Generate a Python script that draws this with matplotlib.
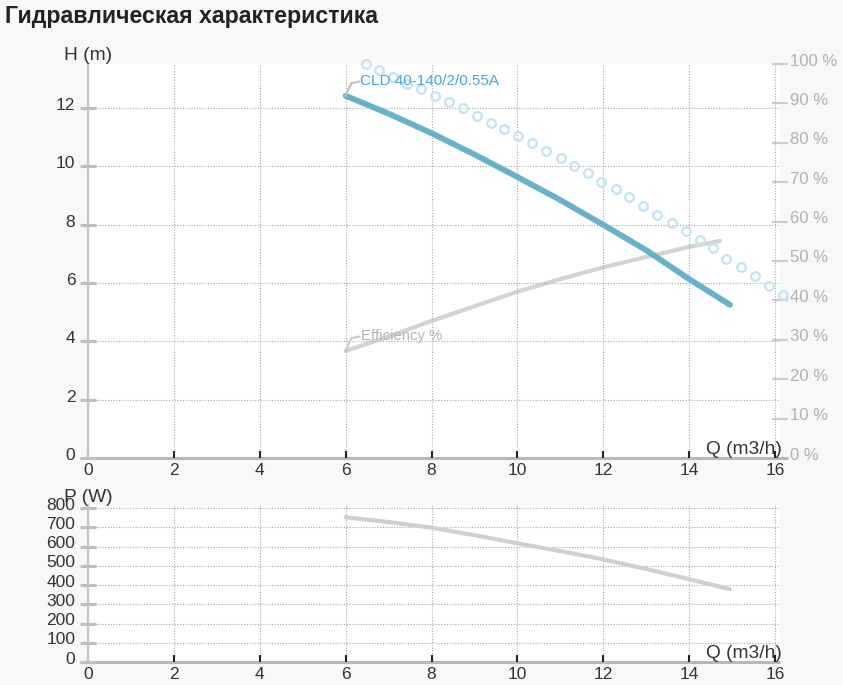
import matplotlib
matplotlib.use('Agg')
import matplotlib.pyplot as plt
from matplotlib.transforms import ScaledTranslation, IdentityTransform
from matplotlib.lines import Line2D

plt.rcParams['font.family'] = ['Liberation Sans', 'DejaVu Sans']

# ---------------- data ----------------
title = 'Гидравлическая характеристика'
pump_name = 'CLD 40-140/2/0.55A'
eff_name = 'Efficiency %'
h_title = 'H (m)'
p_title = 'P (W)'
q_title = 'Q (m3/h)'

q_head = [6, 7, 8, 9, 10, 11, 12, 13, 14, 14.95]
head = [12.41, 11.80, 11.13, 10.40, 9.63, 8.84, 7.99, 7.12, 6.13, 5.25]

q_eff = [6, 7, 8, 9, 10, 11, 12, 13, 14, 14.72]
eff = [27.2, 30.8, 34.8, 38.5, 42.2, 45.4, 48.4, 51.0, 53.6, 55.1]

q_power = [6, 7, 8, 9, 10, 11, 12, 13, 14, 14.95]
power = [753, 728, 699, 660, 618, 577, 534, 484, 431, 379]

q_circ = [6.47, 6.78, 7.11, 7.44, 7.75, 8.09, 8.41, 8.74, 9.05, 9.38, 9.69,
          10.01, 10.34, 10.67, 11.01, 11.33, 11.64, 11.95, 12.30, 12.61, 12.93,
          13.26, 13.60, 13.93, 14.25, 14.56, 14.87, 15.20, 15.53, 15.85, 16.18]
h_circ = [13.50, 13.28, 13.07, 12.81, 12.63, 12.40, 12.19, 11.99, 11.72, 11.49,
          11.26, 11.05, 10.79, 10.51, 10.27, 10.01, 9.77, 9.46, 9.20, 8.94,
          8.64, 8.34, 8.05, 7.78, 7.47, 7.19, 6.83, 6.54, 6.23, 5.90, 5.60]

x_ticks = [0, 2, 4, 6, 8, 10, 12, 14, 16]
h_ticks = [0, 2, 4, 6, 8, 10, 12]
eff_ticks = [0, 10, 20, 30, 40, 50, 60, 70, 80, 90, 100]
eff_labels = ['%d %%' % v for v in eff_ticks]
p_ticks = [0, 100, 200, 300, 400, 500, 600, 700, 800]

# ---------------- style ----------------
W, H = 843, 685
DPI = 100
BG = '#f8f8f8'
TXT = '#333333'
GRID = '#a8a8a8'
BLUE = '#67b1cc'
BLUE_TXT = '#45a8d2'
CIRC = '#c6e4f2'
GRAYLINE = '#d3d3d3'
FS = 12.5
FS_TITLE_AX = 13.8

fig = plt.figure(figsize=(W / DPI, H / DPI), dpi=DPI, facecolor=BG)


def rect(l, t, r, b):
    return [l / W, 1 - b / H, (r - l) / W, (b - t) / H]


XMAX = 16 * (780 - 88) / (775 - 88)

ax = fig.add_axes(rect(88, 64, 780, 458))
axp = fig.add_axes(rect(88, 505, 780, 662))
ax2 = ax.twinx()

# z-order: head axis above efficiency axis
ax2.set_zorder(1)
ax.set_zorder(2)
ax.patch.set_visible(False)
ax2.patch.set_visible(True)
ax2.patch.set_facecolor('white')
axp.patch.set_facecolor('white')

grid_kw = dict(linestyle=(0, (1, 1.5)), color=GRID, linewidth=0.8)

for a, yt in ((ax, h_ticks), (axp, p_ticks)):
    a.set_xticks(x_ticks)
    a.set_yticks(yt)
    a.grid(True, **grid_kw)
    for s in ('top', 'right', 'bottom'):
        a.spines[s].set_visible(False)
    a.spines['left'].set_color('#c4c4c4')
    a.spines['left'].set_linewidth(1.6)
    a.tick_params(axis='x', direction='in', length=5, width=1.5, colors='#222222',
                  labelcolor=TXT, labelsize=FS, pad=3.5, top=False)
    a.tick_params(axis='y', direction='inout', length=12.2, width=2.2, colors='#bfbfbf',
                  labelcolor=TXT, labelsize=FS, pad=3, right=False)

ax2.set_yticks(eff_ticks)
ax2.set_yticklabels(eff_labels)
for s in ax2.spines.values():
    s.set_visible(False)
ax2.tick_params(axis='y', direction='inout', length=12, width=1.6, colors='#cccccc',
                labelcolor='#b0b0b0', labelsize=12, pad=1)

# custom bottom axis lines
ax.plot([-8 / 692, 700 / 692], [0, 0], transform=ax.transAxes, clip_on=False,
        color='#b8b8b8', lw=2.2, solid_capstyle='butt', zorder=1.4)
axp.plot([-8 / 692, 1.0], [0, 0], transform=axp.transAxes, clip_on=False,
         color='#b8b8b8', lw=2.2, solid_capstyle='butt', zorder=1.4)

# series
ax.plot(q_circ, h_circ, linestyle='none', marker='o', markersize=6.2,
        markerfacecolor='none', markeredgecolor=CIRC, markeredgewidth=1.7,
        clip_on=False, zorder=2)
ax.plot(q_head, head, color=BLUE, lw=4.2, solid_capstyle='round',
        solid_joinstyle='round', zorder=3)
ax2.plot(q_eff, eff, color=GRAYLINE, lw=3.0, solid_capstyle='round',
         solid_joinstyle='round', zorder=2)
axp.plot(q_power, power, color='#cfcfcf', lw=3.0, solid_capstyle='round',
         solid_joinstyle='round', zorder=2)


# data labels with connectors
def connector(a, x, y, color):
    tr = IdentityTransform() + ScaledTranslation(x, y, a.transData)
    fig.add_artist(Line2D([0, 5.7, 13.3], [0, 12.6, 14.2], transform=tr,
                          color=color, lw=1.5, zorder=5))


connector(ax, q_head[0], head[0], '#c0c0c0')
ax.annotate(pump_name, xy=(q_head[0], head[0]), xytext=(14.5, 14.5),
            textcoords='offset pixels', ha='left', va='center',
            color=BLUE_TXT, fontsize=11)
connector(ax2, q_eff[0], eff[0], '#c8c8c8')
ax2.annotate(eff_name, xy=(q_eff[0], eff[0]), xytext=(15.5, 14.5),
             textcoords='offset pixels', ha='left', va='center',
             color='#b3b3b3', fontsize=10.7)

# titles
fig.text(5 / W, 1 - 17 / H, title, fontsize=16.7, fontweight='bold',
         color='#222222', ha='left', va='center')
fig.text(88.5 / W, 1 - 56 / H, h_title, fontsize=FS_TITLE_AX, color=TXT,
         ha='center', va='center')
fig.text(88 / W, 1 - 497 / H, p_title, fontsize=FS_TITLE_AX, color=TXT,
         ha='center', va='center')
for a in (ax, axp):
    a.annotate(q_title, xy=(1, 0), xycoords='axes fraction', xytext=(2, 4),
               textcoords='offset pixels', ha='right', va='baseline',
               fontsize=FS_TITLE_AX, color=TXT)

# limits
ax.set_xlim(0, XMAX)
ax.set_ylim(0, 13.5)
ax2.set_ylim(0, 100)
axp.set_xlim(0, XMAX)
axp.set_ylim(0, 817)


def shift_labels(labels, dy):
    off = ScaledTranslation(0, dy / DPI, fig.dpi_scale_trans)
    for lab in labels:
        lab.set_transform(lab.get_transform() + off)


shift_labels(ax.yaxis.get_majorticklabels(), 4)
shift_labels(axp.yaxis.get_majorticklabels(), 4.5)
shift_labels(ax2.yaxis.get_majorticklabels(), 4.5)

fig.savefig('out.png', dpi=DPI, facecolor=BG)
